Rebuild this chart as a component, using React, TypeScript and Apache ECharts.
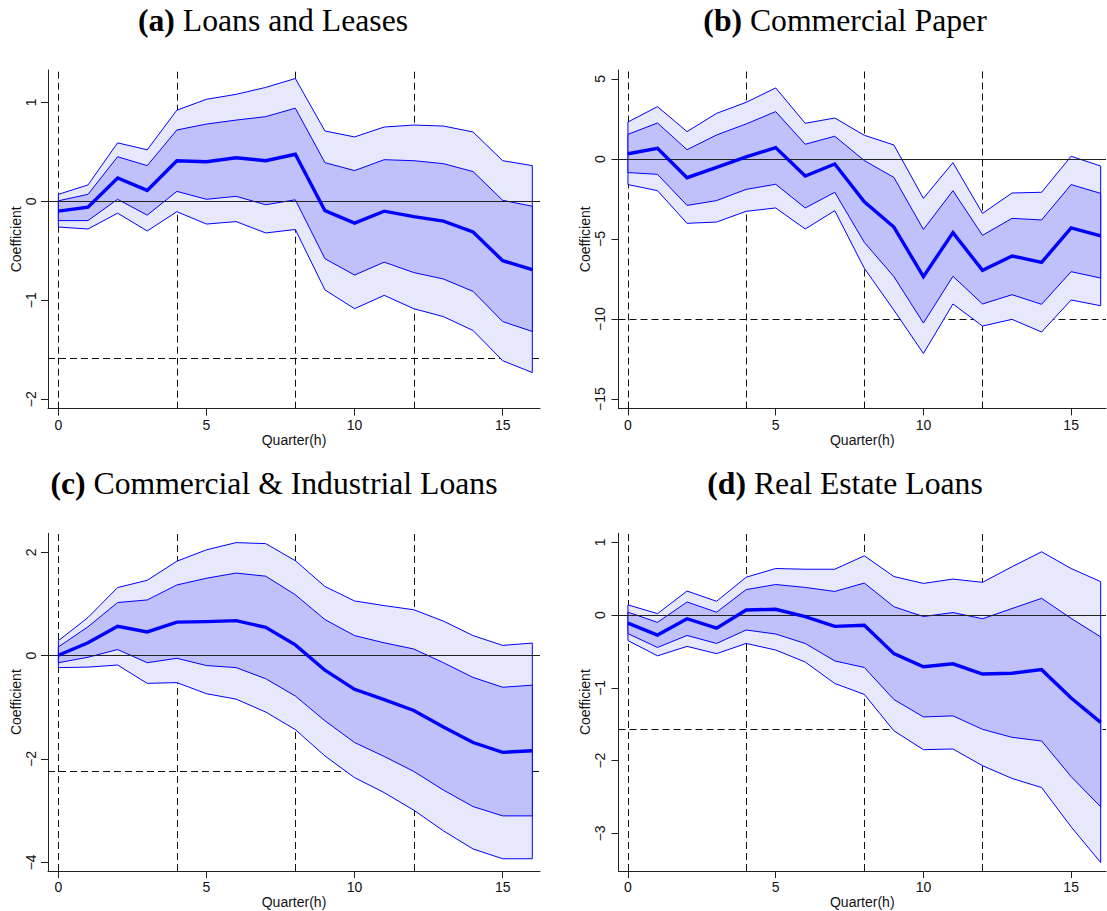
import React, { useEffect, useRef } from "react";
import * as echarts from "echarts";

// ---------- data ----------
const horizons = [0, 1, 2, 3, 4, 5, 6, 7, 8, 9, 10, 11, 12, 13, 14, 15, 16];
const xTickLabels = [0, 5, 10, 15];
const verticalMarks = [0, 4, 8, 12];

const panelTitles = ["(a)|Loans and Leases", "(b)|Commercial Paper", "(c)|Commercial & Industrial Loans", "(d)|Real Estate Loans"];

// (a) Loans and Leases
const aOuterUp = [0.07, 0.165, 0.59, 0.52, 0.92, 1.03, 1.08, 1.15, 1.24, 0.71, 0.65, 0.75, 0.77, 0.76, 0.7, 0.41, 0.36];
const aInnerUp = [0.005, 0.07, 0.45, 0.36, 0.72, 0.78, 0.82, 0.855, 0.94, 0.39, 0.31, 0.42, 0.41, 0.38, 0.3, 0.01, -0.05];
const aMean = [-0.1, -0.06, 0.235, 0.11, 0.41, 0.4, 0.44, 0.41, 0.475, -0.095, -0.22, -0.1, -0.155, -0.2, -0.31, -0.6, -0.69];
const aInnerLo = [-0.195, -0.195, 0.02, -0.14, 0.1, 0.02, 0.05, -0.035, 0.015, -0.58, -0.745, -0.615, -0.72, -0.785, -0.91, -1.215, -1.315];
const aOuterLo = [-0.26, -0.28, -0.12, -0.3, -0.105, -0.23, -0.205, -0.32, -0.285, -0.895, -1.085, -0.95, -1.085, -1.165, -1.305, -1.61, -1.73];
const aThreshold = -1.59;
const aYTicks = [-2, -1, 0, 1];

// (b) Commercial Paper
const bOuterUp = [2.31, 3.27, 1.71, 2.85, 3.54, 4.44, 2.23, 2.56, 1.48, 0.875, -2.46, -0.23, -3.4, -2.125, -2.08, 0.17, -0.44];
const bInnerUp = [1.54, 2.25, 0.58, 1.5, 2.19, 2.96, 0.92, 1.42, -0.1, -1.15, -4.4, -1.98, -4.77, -3.71, -3.81, -1.6, -2.15];
const bMean = [0.33, 0.67, -1.17, -0.52, 0.125, 0.71, -1.06, -0.31, -2.67, -4.25, -7.35, -4.6, -6.96, -6.06, -6.46, -4.31, -4.81];
const bInnerLo = [-0.85, -0.96, -2.9, -2.6, -1.9, -1.58, -3.06, -2.08, -5.21, -7.35, -10.25, -7.33, -9.06, -8.48, -9.08, -7.04, -7.44];
const bOuterLo = [-1.6, -1.98, -4.02, -3.94, -3.27, -3.06, -4.375, -3.23, -6.83, -9.44, -12.15, -9.06, -10.44, -10.02, -10.81, -8.81, -9.17];
const bThreshold = -10;
const bYTicks = [-15, -10, -5, 0, 5];

// (c) Commercial & Industrial Loans
const cOuterUp = [0.29, 0.74, 1.32, 1.46, 1.83, 2.05, 2.19, 2.17, 1.84, 1.34, 1.06, 0.97, 0.89, 0.67, 0.39, 0.2, 0.245];
const cInnerUp = [0.17, 0.56, 1.03, 1.08, 1.37, 1.5, 1.6, 1.54, 1.18, 0.7, 0.39, 0.25, 0.13, -0.135, -0.42, -0.61, -0.57];
const cMean = [0.01, 0.25, 0.57, 0.46, 0.65, 0.66, 0.68, 0.55, 0.21, -0.28, -0.65, -0.85, -1.06, -1.38, -1.68, -1.87, -1.84];
const cInnerLo = [-0.135, -0.03, 0.12, -0.135, -0.05, -0.19, -0.23, -0.445, -0.78, -1.26, -1.68, -1.95, -2.24, -2.6, -2.92, -3.1, -3.1];
const cOuterLo = [-0.23, -0.22, -0.18, -0.535, -0.52, -0.735, -0.84, -1.09, -1.43, -1.94, -2.36, -2.65, -2.99, -3.39, -3.74, -3.93, -3.93];
const cThreshold = -2.24;
const cYTicks = [-4, -2, 0, 2];

// (d) Real Estate Loans
const dOuterUp = [0.14, 0.02, 0.33, 0.19, 0.52, 0.64, 0.63, 0.63, 0.815, 0.53, 0.435, 0.495, 0.45, 0.665, 0.87, 0.64, 0.46];
const dInnerUp = [0.04, -0.1, 0.18, 0.04, 0.35, 0.42, 0.38, 0.325, 0.44, 0.115, -0.02, 0.035, -0.05, 0.09, 0.23, -0.045, -0.3];
const dMean = [-0.11, -0.275, -0.05, -0.18, 0.07, 0.08, -0.02, -0.155, -0.14, -0.53, -0.71, -0.67, -0.81, -0.8, -0.75, -1.14, -1.475];
const dInnerLo = [-0.255, -0.445, -0.28, -0.39, -0.205, -0.26, -0.39, -0.63, -0.72, -1.16, -1.4, -1.385, -1.57, -1.68, -1.73, -2.22, -2.635];
const dOuterLo = [-0.35, -0.56, -0.43, -0.53, -0.39, -0.48, -0.645, -0.94, -1.09, -1.59, -1.85, -1.84, -2.07, -2.245, -2.37, -2.91, -3.4];
const dThreshold = -1.57;
const dYTicks = [-3, -2, -1, 0, 1];

// ---------- styling / layout ----------
const BLUE = "#0000FF";
const OUTER_FILL = "#E8E8FC";
const INNER_FILL = "#C0C0FA";
const SANS = "'Liberation Sans', Arial, sans-serif";
const SERIF = "'Liberation Serif', 'Times New Roman', serif";
const TITLE_SIZE = 31.7;

type Panel = {
  outerUp: number[]; innerUp: number[]; mean: number[]; innerLo: number[]; outerLo: number[];
  threshold: number; yTicks: number[];
  grid: { left: number; top: number; width: number; height: number };
  xMin: number; xMax: number; yMin: number; yMax: number;
  titleX: number; titleY: number; nameGap: number; labelMargin: number;
};

const panels: Panel[] = [
  { outerUp: aOuterUp, innerUp: aInnerUp, mean: aMean, innerLo: aInnerLo, outerLo: aOuterLo, threshold: aThreshold, yTicks: aYTicks,
    grid: { left: 48, top: 70, width: 492, height: 338.7 }, xMin: -0.35, xMax: 16.26, yMin: -2.095, yMax: 1.326,
    titleX: 273, titleY: 20, nameGap: 24, labelMargin: 10 },
  { outerUp: bOuterUp, innerUp: bInnerUp, mean: bMean, innerLo: bInnerLo, outerLo: bOuterLo, threshold: bThreshold, yTicks: bYTicks,
    grid: { left: 618.5, top: 70, width: 487.5, height: 338.5 }, xMin: -0.32, xMax: 16.18, yMin: -15.59, yMax: 5.56,
    titleX: 845, titleY: 20, nameGap: 27, labelMargin: 12 },
  { outerUp: cOuterUp, innerUp: cInnerUp, mean: cMean, innerLo: cInnerLo, outerLo: cOuterLo, threshold: cThreshold, yTicks: cYTicks,
    grid: { left: 48, top: 533.3, width: 492, height: 337.7 }, xMin: -0.35, xMax: 16.26, yMin: -4.167, yMax: 2.37,
    titleX: 274, titleY: 483, nameGap: 24, labelMargin: 10 },
  { outerUp: dOuterUp, innerUp: dInnerUp, mean: dMean, innerLo: dInnerLo, outerLo: dOuterLo, threshold: dThreshold, yTicks: dYTicks,
    grid: { left: 618.5, top: 533.3, width: 487.5, height: 337.7 }, xMin: -0.32, xMax: 16.18, yMin: -3.517, yMax: 1.124,
    titleX: 845, titleY: 483, nameGap: 27, labelMargin: 12 },
];

const fmt = (v: number) => (v < 0 ? "\u2212" + Math.abs(v) : String(v));

function bandSeries(gi: number, up: number[], lo: number[], fill: string, z: number) {
  return {
    type: "custom",
    xAxisIndex: gi,
    yAxisIndex: gi,
    z,
    silent: true,
    data: [[horizons[0], lo[0]]],
    renderItem: (params: any, api: any) => {
      if (params.dataIndex !== 0) return null;
      const top = horizons.map((h, i) => api.coord([h, up[i]]));
      const bot = horizons.map((h, i) => api.coord([h, lo[i]])).reverse();
      return {
        type: "polygon",
        shape: { points: top.concat(bot) },
        style: { fill, stroke: BLUE, lineWidth: 1, lineJoin: "miter" },
      };
    },
  };
}

function buildOption() {
  const grid: any[] = [];
  const xAxis: any[] = [];
  const yAxis: any[] = [];
  const series: any[] = [];
  const graphic: any[] = [];

  panels.forEach((p, gi) => {
    grid.push({ ...p.grid, outerBoundsMode: "none", containLabel: false });
    xAxis.push({
      type: "value", gridIndex: gi, min: p.xMin, max: p.xMax,
      axisLine: { show: true, onZero: false, lineStyle: { color: "#222", width: 1 } },
      axisTick: { show: true, length: 7, customValues: xTickLabels, lineStyle: { color: "#222", width: 1 } },
      axisLabel: { customValues: xTickLabels, fontSize: 14, fontFamily: SANS, color: "#111", margin: 9 },
      splitLine: { show: false },
      name: "Quarter(h)", nameLocation: "middle", nameGap: 24,
      nameTextStyle: { fontSize: 14, fontFamily: SANS, color: "#111" },
    });
    yAxis.push({
      type: "value", gridIndex: gi, min: p.yMin, max: p.yMax,
      axisLine: { show: true, onZero: false, lineStyle: { color: "#222", width: 1 } },
      axisTick: { show: true, length: 7, customValues: p.yTicks, lineStyle: { color: "#222", width: 1 } },
      axisLabel: { customValues: p.yTicks, rotate: 90, fontSize: 14, fontFamily: SANS, color: "#111", margin: p.labelMargin, formatter: fmt },
      splitLine: { show: false },
      name: "Coefficient", nameLocation: "middle", nameGap: p.nameGap, nameRotate: 90,
      nameTextStyle: { fontSize: 14, fontFamily: SANS, color: "#111" },
    });

    // reference dashed lines (under bands)
    series.push({
      type: "line", xAxisIndex: gi, yAxisIndex: gi, data: [], z: 1, silent: true,
      markLine: {
        silent: true, z: 1, symbol: ["none", "none"], label: { show: false }, animation: false,
        lineStyle: { type: [7, 4], color: "#111", width: 1 },
        emphasis: { disabled: true },
        data: [...verticalMarks.map((v) => ({ xAxis: v })), { yAxis: p.threshold }],
      },
    });
    series.push(bandSeries(gi, p.outerUp, p.outerLo, OUTER_FILL, 2));
    series.push(bandSeries(gi, p.innerUp, p.innerLo, INNER_FILL, 3));
    // zero line
    series.push({
      type: "line", xAxisIndex: gi, yAxisIndex: gi, data: [], z: 4, silent: true,
      markLine: {
        silent: true, z: 4, symbol: ["none", "none"], label: { show: false }, animation: false,
        lineStyle: { type: "solid", color: "#222", width: 1 },
        emphasis: { disabled: true },
        data: [{ yAxis: 0 }],
      },
    });
    series.push({
      type: "line", xAxisIndex: gi, yAxisIndex: gi, z: 5, silent: true,
      data: horizons.map((h, i) => [h, p.mean[i]]),
      symbol: "none", lineStyle: { width: 3.4, color: BLUE, join: "miter" },
    });

    const [tag, rest] = panelTitles[gi].split("|");
    graphic.push({
      type: "text", x: p.titleX, y: p.titleY, silent: true,
      style: {
        text: `{b|${tag}} ${rest}`,
        rich: { b: { fontWeight: "bold", fontFamily: SERIF, fontSize: TITLE_SIZE, fill: "#000" } },
        fontFamily: SERIF, fontSize: TITLE_SIZE, fill: "#000",
        align: "center", verticalAlign: "middle",
      },
    });
  });

  return { animation: false, backgroundColor: "#fff", grid, xAxis, yAxis, series, graphic };
}

export default function App() {
  const ref = useRef<HTMLDivElement>(null);
  useEffect(() => {
    if (!ref.current) return;
    const chart = echarts.init(ref.current, undefined, { renderer: "svg" });
    chart.setOption(buildOption() as any);
    return () => chart.dispose();
  }, []);
  return (
    <div
      ref={ref}
      style={{ position: "fixed", left: 0, top: 0, width: 1107, height: 911, background: "#fff" }}
    />
  );
}
